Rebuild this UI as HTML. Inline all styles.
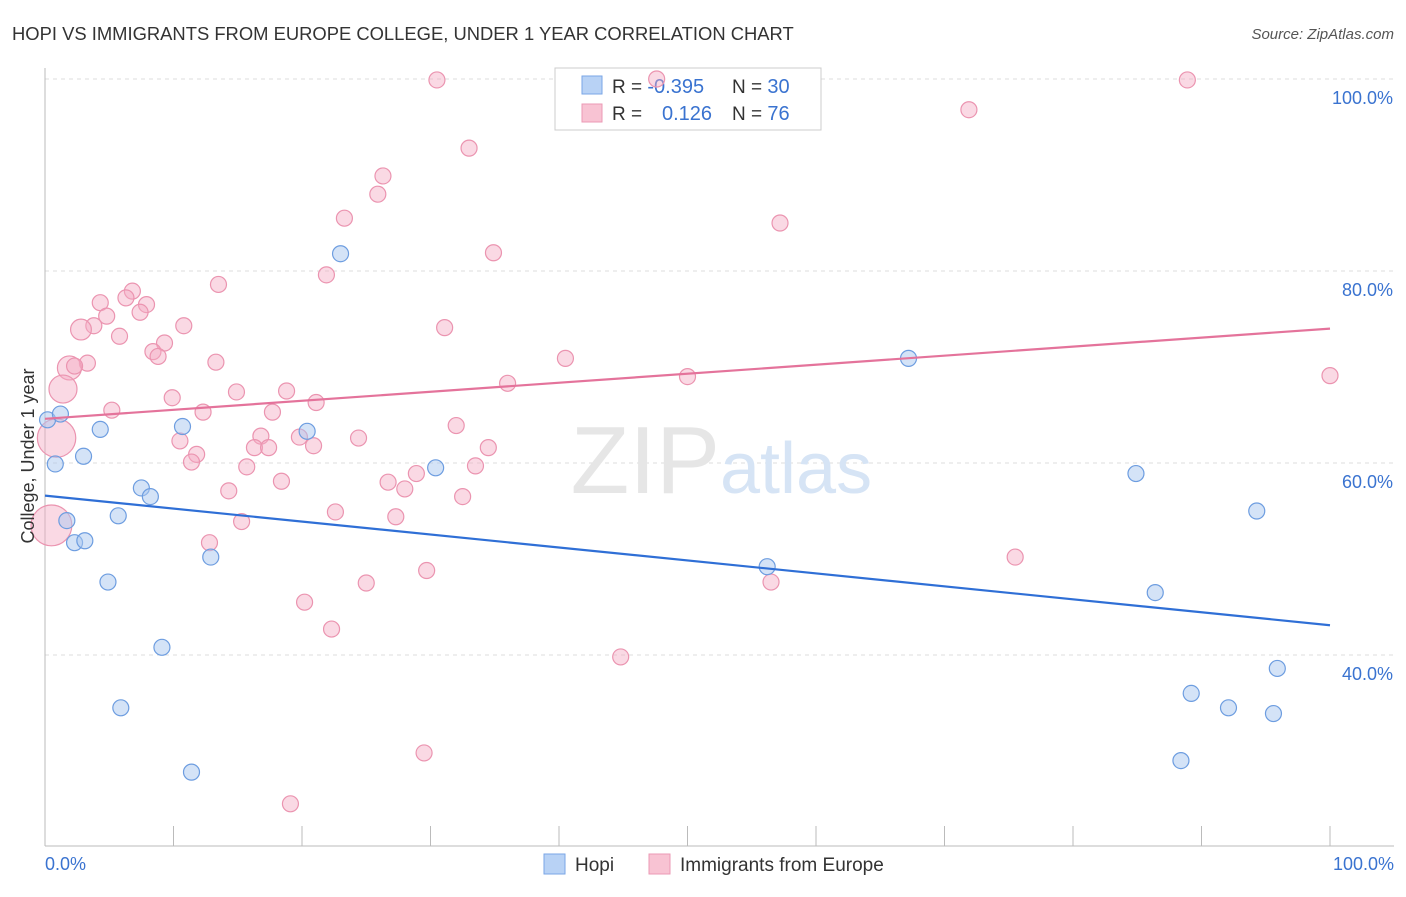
<!DOCTYPE html>
<html><head><meta charset="utf-8"><style>
body{margin:0;background:#fff;font-family:"Liberation Sans",sans-serif;}
svg text{font-family:"Liberation Sans",sans-serif;}
</style></head><body>
<svg id="chart" width="1406" height="892" xmlns="http://www.w3.org/2000/svg">
<text x="12" y="40" font-size="18.4" fill="#333">HOPI VS IMMIGRANTS FROM EUROPE COLLEGE, UNDER 1 YEAR CORRELATION CHART</text>
<text x="1394" y="39" font-size="15" fill="#555" text-anchor="end" font-style="italic">Source: ZipAtlas.com</text>
<g id="grid"></g>
<text x="720" y="493" font-size="96" fill="#e6e6e6" text-anchor="end" font-family="Liberation Serif">ZIP</text>
<text x="720" y="493" font-size="72" fill="#d6e4f5">atlas</text>
<g>
<rect x="555" y="68" width="266" height="62" fill="#fff" stroke="#ccc"/>
<rect x="582" y="76" width="20" height="18" fill="#b8d2f5" stroke="#7aa6e6"/>
<rect x="582" y="104" width="20" height="18" fill="#f8c3d3" stroke="#eb9ab4"/>
<text x="612" y="93" font-size="19" fill="#333">R = <tspan fill="#3a73d0" font-size="20">-0.395</tspan><tspan x="732">N = </tspan><tspan fill="#3a73d0" font-size="20">30</tspan></text>
<text x="612" y="120" font-size="19" fill="#333">R = <tspan x="662" fill="#3a73d0" font-size="20">0.126</tspan><tspan x="732">N = </tspan><tspan fill="#3a73d0" font-size="20">76</tspan></text>
</g>
<g id="marks"></g>
<text transform="translate(34,456) rotate(-90)" font-size="18" fill="#333" text-anchor="middle">College, Under 1 year</text>
<text x="45" y="870" font-size="18" fill="#3a73d0">0.0%</text>
<text x="1394" y="870" font-size="18" fill="#3a73d0" text-anchor="end">100.0%</text>
<g>
<rect x="544" y="854" width="21" height="20" fill="#b8d2f5" stroke="#7aa6e6"/>
<text x="575" y="871" font-size="19" fill="#333">Hopi</text>
<rect x="649" y="854" width="21" height="20" fill="#f8c3d3" stroke="#eb9ab4"/>
<text x="680" y="871" font-size="19" fill="#333">Immigrants from Europe</text>
</g>
</svg>
<script>
const yTicks=[40,60,80,100];
const yTickLabels=["40.0%","60.0%","80.0%","100.0%"];
const xTicks=[0,10,20,30,40,50,60,70,80,90,100];
const hopiX=[0.2,1.2,0.8,4.3,3.0,1.7,2.3,3.1,5.7,4.9,7.5,8.2,10.7,9.1,5.9,11.4,12.9,20.4,23.0,30.4,56.2,67.2,84.9,86.4,89.2,92.1,94.3,95.9,95.6,88.4];
const hopiY=[64.5,65.1,59.9,63.5,60.7,54.0,51.7,51.9,54.5,47.6,57.4,56.5,63.8,40.8,34.5,27.8,50.2,63.3,81.8,59.5,49.2,70.9,58.9,46.5,36.0,34.5,55.0,38.6,33.9,29.0];
const euX=[30.5,47.6,88.9,71.9,33.0,26.3,25.9,23.3,57.2,34.9,21.9,13.5,6.8,4.3,6.3,7.9,7.4,4.8,3.8,2.8,10.8,31.1,5.8,9.3,8.4,8.8,40.5,13.3,3.3,1.9,2.3,1.4,36.0,50.0,100,14.9,18.8,9.9,5.2,12.3,17.7,21.1,32.0,10.5,16.8,19.8,24.4,20.9,16.3,17.4,34.5,11.8,11.4,15.7,33.5,18.4,28.9,26.7,28.0,14.3,32.5,22.6,27.3,15.3,12.8,75.5,29.7,25.0,56.5,20.2,22.3,44.8,29.5,19.1,0.9,0.5];
const euY=[99.9,100,99.9,96.8,92.8,89.9,88.0,85.5,85.0,81.9,79.6,78.6,77.9,76.7,77.2,76.5,75.7,75.3,74.3,73.9,74.3,74.1,73.2,72.5,71.6,71.1,70.9,70.5,70.4,69.9,70.1,67.7,68.3,69.0,69.1,67.4,67.5,66.8,65.5,65.3,65.3,66.3,63.9,62.3,62.8,62.7,62.6,61.8,61.6,61.6,61.6,60.9,60.1,59.6,59.7,58.1,58.9,58.0,57.3,57.1,56.5,54.9,54.4,53.9,51.7,50.2,48.8,47.5,47.6,45.5,42.7,39.8,29.8,24.5,62.6,53.5];
const euSize=[1,1,1,1,1,1,1,1,1,1,1,1,1,1,1,1,1,1,1,1.3,1,1,1,1,1,1,1,1,1,1.5,1,1.75,1,1,1,1,1,1,1,1,1,1,1,1,1,1,1,1,1,1,1,1,1,1,1,1,1,1,1,1,1,1,1,1,1,1,1,1,1,1,1,1,1,1,2.4,2.55];
const hopiTrend=[56.6,43.1];
const euTrend=[64.6,74.0];
const X=v=>45+v*12.85, Y=v=>1039-v*9.6;
const ns="http://www.w3.org/2000/svg";
function mk(tag,attrs,parent){const e=document.createElementNS(ns,tag);for(const k in attrs)e.setAttribute(k,attrs[k]);parent.appendChild(e);return e;}
const grid=document.getElementById('grid'),marks=document.getElementById('marks');
yTicks.forEach((t,i)=>{
 const l=mk('line',{x1:45,x2:1394,y1:Y(t),y2:Y(t),stroke:'#ddd','stroke-dasharray':'4,4'},grid);
 
 
 const tx=mk('text',{x:1393,y:Y(t)+25,'font-size':18,fill:'#3a73d0','text-anchor':'end'},grid);
 tx.textContent=yTickLabels[i];
 
 
});
const ax=mk('line',{x1:45,x2:45,y1:68,y2:846,stroke:'#bbb'},grid);


const bx=mk('line',{x1:45,x2:1394,y1:846,y2:846,stroke:'#bbb'},grid);


xTicks.forEach(t=>{
 const l=mk('line',{x1:X(t),x2:X(t),y1:826,y2:846,stroke:'#bbb'},grid);
 
 
});
euX.forEach((x,i)=>{
 const c=mk('circle',{cx:X(x),cy:Y(euY[i]),r:8*euSize[i],fill:'rgba(245,170,195,0.45)',stroke:'#eb94b0','stroke-width':1.2},marks);
 
 
});
hopiX.forEach((x,i)=>{
 const c=mk('circle',{cx:X(x),cy:Y(hopiY[i]),r:8,fill:'rgba(170,200,240,0.5)',stroke:'#6d9de0','stroke-width':1.2},marks);
 
 
});
const t1=mk('line',{x1:X(0),x2:X(100),y1:Y(hopiTrend[0]),y2:Y(hopiTrend[1]),stroke:'#2f6fd6','stroke-width':2.2},marks);


const t2=mk('line',{x1:X(0),x2:X(100),y1:Y(euTrend[0]),y2:Y(euTrend[1]),stroke:'#e4739b','stroke-width':2.2},marks);


</script>
</body></html>
